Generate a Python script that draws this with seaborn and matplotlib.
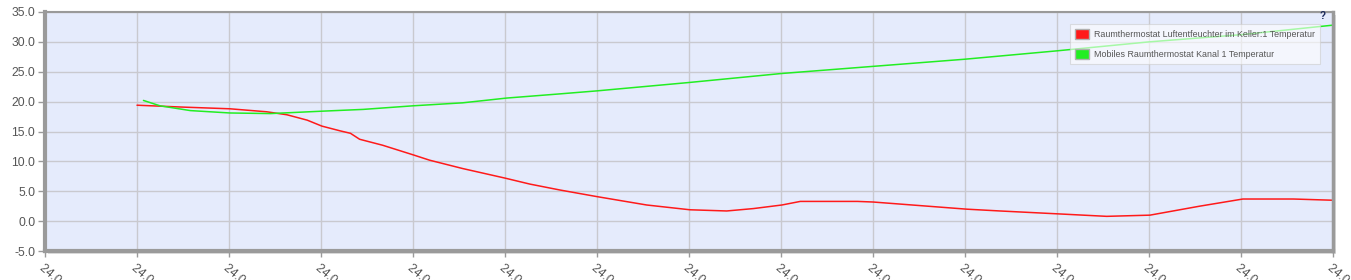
import numpy as np
import pandas as pd
import matplotlib
matplotlib.use("Agg")
import matplotlib.pyplot as plt
import seaborn as sns
from matplotlib.patches import Rectangle

# ---------------- data ----------------
series_names = [
    "Raumthermostat Luftentfeuchter im Keller:1 Temperatur",
    "Mobiles Raumthermostat Kanal 1 Temperatur",
]
series_colors = ["#ff1a1a", "#22ee22"]

red_t = [1.00, 1.47, 2.01, 2.41, 2.63, 2.85, 3.01, 3.21, 3.32, 3.42, 3.67, 4.00,
         4.18, 4.54, 5.00, 5.27, 5.60, 6.00, 6.54, 7.01, 7.41, 7.70, 8.01, 8.21,
         8.83, 9.00, 9.51, 10.02, 10.38, 11.03, 11.54, 12.01, 12.55, 13.02, 13.57, 13.99]
red_v = [19.4, 19.1, 18.8, 18.3, 17.8, 16.9, 15.9, 15.1, 14.7, 13.7, 12.7, 11.1,
         10.2, 8.8, 7.2, 6.2, 5.2, 4.1, 2.7, 1.9, 1.7, 2.1, 2.7, 3.3,
         3.3, 3.2, 2.6, 2.0, 1.7, 1.2, 0.8, 1.0, 2.5, 3.7, 3.7, 3.5]

green_t = [1.07, 1.25, 1.58, 2.01, 2.45, 3.01, 3.46, 4.00, 4.54, 5.02, 5.27, 5.60,
           6.00, 7.00, 8.00, 9.00, 10.00, 11.00, 12.00, 13.00, 14.00]
green_v = [20.2, 19.3, 18.5, 18.1, 18.0, 18.4, 18.7, 19.3, 19.8, 20.6, 20.9, 21.3,
           21.8, 23.2, 24.7, 25.9, 27.1, 28.5, 30.0, 31.2, 32.8]

x_ticks = list(range(15))
x_tick_labels = ["24.04. %02d:00" % h for h in range(8, 23)]
y_ticks = [-5, 0, 5, 10, 15, 20, 25, 30, 35]

# ---------------- figure ----------------
sns.set_theme(style="white")
plt.rcParams["font.family"] = ["Liberation Sans", "DejaVu Sans"]

W, H = 1351, 280
fig = plt.figure(figsize=(W / 100, H / 100), dpi=100)
fig.patch.set_facecolor("white")
ax_l, ax_r, ax_t, ax_b = 45, 1333, 12, 251
ax = fig.add_axes([ax_l / W, (H - ax_b) / H, (ax_r - ax_l) / W, (ax_b - ax_t) / H])
ax.set_zorder(2)

# frame shadow (behind the axes)
shadow = Rectangle(((ax_l + 3) / W, (H - ax_b - 3) / H), (ax_r - ax_l) / W, (ax_b - ax_t) / H,
                   transform=fig.transFigure, facecolor="#dedede", edgecolor="none", zorder=-5)
fig.patches.append(shadow)

df = pd.concat([
    pd.DataFrame({"t": red_t, "v": red_v, "series": series_names[0]}),
    pd.DataFrame({"t": green_t, "v": green_v, "series": series_names[1]}),
])
sns.lineplot(data=df, x="t", y="v", hue="series",
             palette=dict(zip(series_names, series_colors)),
             estimator=None, legend=False, linewidth=1.1, ax=ax)

ax.set_facecolor("#e5ebfc")
ax.set_xlim(0, 14)
ax.set_ylim(-5, 35)
ax.set_xticks(x_ticks)
ax.set_xticklabels(x_tick_labels, rotation=-40, ha="left", va="top",
                   rotation_mode="anchor")
ax.set_yticks(y_ticks)
ax.set_yticklabels(["%.1f" % v for v in y_ticks])
ax.set_xlabel("")
ax.set_ylabel("")
ax.grid(True, color="#c9c9cf", linewidth=1)
ax.set_axisbelow(True)

for side, lw in (("left", 3), ("bottom", 3), ("top", 1.5), ("right", 2.5)):
    ax.spines[side].set_visible(True)
    ax.spines[side].set_color("#9a9a9a")
    ax.spines[side].set_linewidth(lw)

ax.tick_params(axis="y", left=True, length=5, width=1, color="#9a9a9a",
               labelsize=8.7, labelcolor="#555555", pad=2)
ax.tick_params(axis="x", bottom=True, length=4, width=1, color="#9a9a9a",
               labelsize=8.7, labelcolor="#555555", pad=4)

handles = [Rectangle((0, 0), 1, 1, facecolor=c, edgecolor="#b0b0b0", linewidth=1)
           for c in series_colors]
leg = ax.legend(handles, series_names, loc="upper right",
                bbox_to_anchor=((1320 - ax_l) / (ax_r - ax_l), (ax_b - 24) / (ax_b - ax_t)),
                fontsize=6.4, frameon=True, fancybox=False, framealpha=0.6,
                edgecolor="#cccccc", facecolor="white", labelcolor="#555555",
                handlelength=1.6, handleheight=1.35, handletextpad=0.6,
                labelspacing=1.15, borderpad=0.55, borderaxespad=0)
leg.get_frame().set_linewidth(0.8)

fig.text(1323 / W, 1 - 16 / H, "?", ha="center", va="center", fontsize=7,
         fontweight="bold", color="#1c2a5c", zorder=10)

fig.savefig("out.png", dpi=100)
